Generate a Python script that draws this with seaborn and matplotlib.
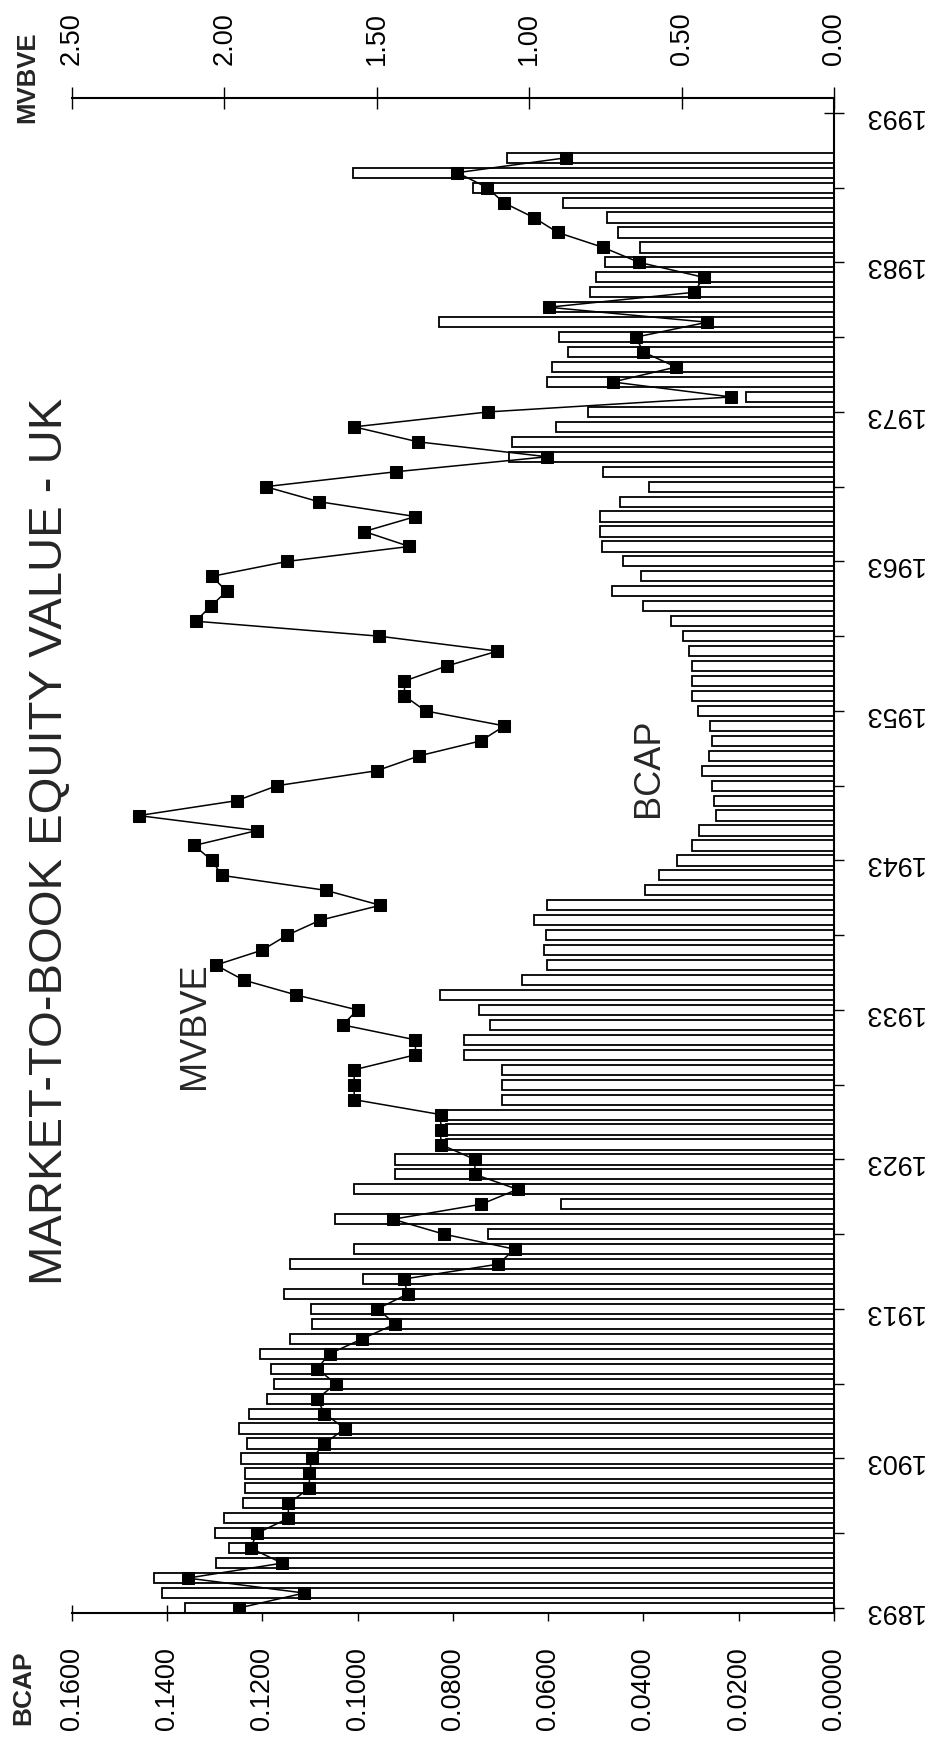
import pandas as pd
import seaborn as sns
import matplotlib
matplotlib.use("Agg")
import matplotlib.pyplot as plt
from matplotlib.ticker import FormatStrFormatter

sns.set_theme(style="ticks")
plt.rcParams["font.family"] = ["Liberation Sans", "DejaVu Sans"]

# one bar / point per year
years = list(range(1893, 1991))

# book-to-market (bars)
bcap = [
    0.1363, 0.1411, 0.1427, 0.1297, 0.1270, 0.1300, 0.1281, 0.1241, 0.1236, 0.1236,  # 1893-1902
    0.1246, 0.1233, 0.1250, 0.1228, 0.1190, 0.1175, 0.1183, 0.1206, 0.1143, 0.1095,  # 1903-1912
    0.1098, 0.1154, 0.0989, 0.1143, 0.1008, 0.0726, 0.1048, 0.0574, 0.1007, 0.0921,  # 1913-1922
    0.0921, 0.0815, 0.0815, 0.0815, 0.0697, 0.0697, 0.0697, 0.0777, 0.0777, 0.0723,  # 1923-1932
    0.0745, 0.0828, 0.0656, 0.0603, 0.0608, 0.0605, 0.0629, 0.0603, 0.0396, 0.0367,  # 1933-1942
    0.0329, 0.0297, 0.0284, 0.0247, 0.0252, 0.0257, 0.0278, 0.0262, 0.0257, 0.0260,  # 1943-1952
    0.0286, 0.0297, 0.0299, 0.0297, 0.0305, 0.0316, 0.0342, 0.0401, 0.0466, 0.0406,  # 1953-1962
    0.0442, 0.0488, 0.0492, 0.0492, 0.0450, 0.0388, 0.0485, 0.0683, 0.0675, 0.0584,  # 1963-1972
    0.0517, 0.0184, 0.0602, 0.0591, 0.0558, 0.0578, 0.0830, 0.0590, 0.0512, 0.0499,  # 1973-1982
    0.0481, 0.0407, 0.0453, 0.0476, 0.0569, 0.0758, 0.1010, 0.0687,                  # 1983-1990
]

# market-to-book (line with square markers)
mvbve = [
    1.952, 1.738, 2.120, 1.810, 1.914, 1.893, 1.790, 1.790, 1.721, 1.721,  # 1893-1902
    1.713, 1.672, 1.604, 1.672, 1.695, 1.634, 1.696, 1.655, 1.548, 1.439,  # 1903-1912
    1.498, 1.399, 1.411, 1.101, 1.048, 1.279, 1.447, 1.158, 1.038, 1.178,  # 1913-1922
    1.178, 1.290, 1.290, 1.290, 1.574, 1.574, 1.574, 1.373, 1.373, 1.612,  # 1923-1932
    1.563, 1.764, 1.937, 2.028, 1.876, 1.794, 1.686, 1.488, 1.667, 2.008,  # 1933-1942
    2.041, 2.099, 1.893, 2.281, 1.959, 1.827, 1.500, 1.360, 1.158, 1.081,  # 1943-1952
    1.340, 1.409, 1.409, 1.271, 1.104, 1.492, 2.094, 2.045, 1.992, 2.041,  # 1953-1962
    1.794, 1.393, 1.541, 1.373, 1.691, 1.865, 1.436, 0.941, 1.365, 1.574,  # 1963-1972
    1.134, 0.337, 0.726, 0.518, 0.625, 0.650, 0.416, 0.936, 0.459, 0.427,  # 1973-1982
    0.639, 0.757, 0.906, 0.985, 1.084, 1.137, 1.236, 0.878,                # 1983-1990
]

bcap_ticks = [0.0, 0.02, 0.04, 0.06, 0.08, 0.10, 0.12, 0.14, 0.16]
mvbve_ticks = [0.0, 0.5, 1.0, 1.5, 2.0, 2.5]
year_labels = [1893, 1903, 1913, 1923, 1933, 1943, 1953, 1963, 1973, 1983, 1993]
year_minor = [1898, 1908, 1918, 1928, 1938, 1948, 1958, 1968, 1978, 1988]

df = pd.DataFrame({"Year": years, "BCAP": bcap, "MVBVE": mvbve})

# the page is printed turned on its side, so the chart is drawn rotated:
# years run bottom->top, values grow to the left
fig = plt.figure(figsize=(9.37, 17.52), dpi=100)
ax = fig.add_axes([0.0768, 0.0793, 0.8132, 0.8648])

sns.barplot(
    data=df,
    x="BCAP",
    y="Year",
    orient="y",
    native_scale=True,
    width=0.68,
    color="white",
    saturation=1,
    edgecolor="black",
    linewidth=1.3,
    errorbar=None,
    ax=ax,
)

ax2 = ax.twiny()
sns.lineplot(
    data=df,
    x="MVBVE",
    y="Year",
    orient="y",
    estimator=None,
    color="black",
    linewidth=1.1,
    marker="s",
    markersize=9,
    markerfacecolor="black",
    markeredgecolor="black",
    ax=ax2,
)

ax.set_xlim(0.16, 0)
ax2.set_xlim(2.5, 0)
ax.set_ylim(1892.66, 1994.0)
for a in (ax, ax2):
    a.set_xlabel("")
    a.set_ylabel("")

# BCAP axis (bottom)
ax.set_xticks(bcap_ticks)
ax.xaxis.set_major_formatter(FormatStrFormatter("%.4f"))
ax.tick_params(axis="x", direction="inout", length=11.5, width=1, pad=18.7,
               labelsize=19.5, labelrotation=90, colors="black")

# year axis (right)
ax.yaxis.tick_right()
ax.set_yticks(year_labels)
ax.set_yticks(year_minor, minor=True)
ax.tick_params(axis="y", which="both", direction="inout", length=14.4, width=1,
               pad=13, labelsize=19.5, labelrotation=180, colors="black")

# MVBVE axis (top)
ax2.set_xticks(mvbve_ticks)
ax2.xaxis.set_major_formatter(FormatStrFormatter("%.2f"))
ax2.tick_params(axis="x", direction="inout", length=15.8, width=1, pad=15.9,
                labelsize=19.5, labelrotation=90, colors="black")

for s in ("left", "top"):
    ax.spines[s].set_visible(False)
for s in ("left", "right", "bottom"):
    ax2.spines[s].set_visible(False)
for s in ("bottom", "right"):
    ax.spines[s].set_linewidth(1.5)
    ax.spines[s].set_color("black")
ax2.spines["top"].set_linewidth(1.5)
ax2.spines["top"].set_color("black")

fig.text(0.0534, 0.520, "MARKET-TO-BOOK EQUITY VALUE - UK", rotation=90,
         ha="center", va="center", fontsize=34)
fig.text(0.208, 0.4144, "MVBVE", rotation=90, ha="center", va="center",
         fontsize=26)
fig.text(0.6916, 0.5616, "BCAP", rotation=90, ha="center", va="center",
         fontsize=26)
fig.text(0.0245, 0.0365, "BCAP", rotation=90, ha="center", va="center",
         fontsize=19, weight="bold")
fig.text(0.0288, 0.956, "MVBVE", rotation=90, ha="center", va="center",
         fontsize=18.5, weight="bold")

fig.savefig("out.png", dpi=100)
